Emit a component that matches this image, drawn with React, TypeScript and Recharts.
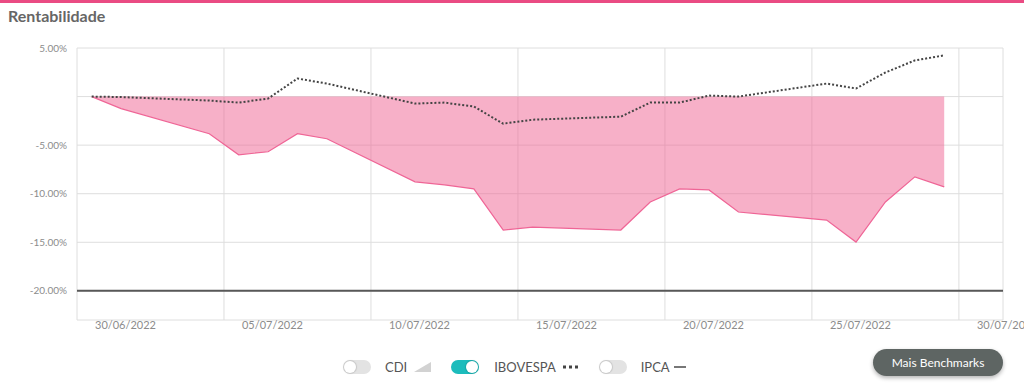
import React from "react";
import {
  ComposedChart, Area, Line, XAxis, YAxis, CartesianGrid, ReferenceLine,
} from "recharts";

// pregões do período
const dates = [
  "30/06/2022", "01/07/2022", "04/07/2022", "05/07/2022", "06/07/2022", "07/07/2022", "08/07/2022",
  "11/07/2022", "12/07/2022", "13/07/2022", "14/07/2022", "15/07/2022",
  "18/07/2022", "19/07/2022", "20/07/2022", "21/07/2022", "22/07/2022",
  "25/07/2022", "26/07/2022", "27/07/2022", "28/07/2022", "29/07/2022",
];

// rentabilidade acumulada da carteira (%)
const carteira = [
  0, -1.24, -3.82, -5.99, -5.68, -3.82, -4.34,
  -8.78, -9.09, -9.5, -13.74, -13.43,
  -13.74, -10.85, -9.5, -9.61, -11.88,
  -12.71, -14.98, -10.85, -8.26, -9.3,
];

// benchmark IBOVESPA (%)
const ibovespa = [
  0, -0.05, -0.41, -0.62, -0.21, 1.86, 1.34,
  -0.72, -0.62, -1.03, -2.79, -2.38,
  -2.07, -0.62, -0.62, 0.1, 0,
  1.34, 0.83, 2.48, 3.72, 4.24,
];

const tickDates = ["30/06/2022", "05/07/2022", "10/07/2022", "15/07/2022", "20/07/2022", "25/07/2022", "30/07/2022"];
const yTicks = [5, 0, -5, -10, -15, -20];

const DAY = 86400000;
const toDay = (s: string) => {
  const [d, m, y] = s.split("/").map(Number);
  return Date.UTC(y, m - 1, d);
};
const start = toDay(tickDates[0]);
const dayIndex = (s: string) => (toDay(s) - start) / DAY;

// each close is plotted in the middle of its day
const data = dates.map((d, i) => ({
  t: dayIndex(d) + 0.5,
  carteira: carteira[i],
  ibovespa: ibovespa[i],
}));
const xTicks = tickDates.map(dayIndex);
const labelFor = (v: number) => tickDates[xTicks.indexOf(v)] ?? "";

const fmtPct = (v: number) => (v === 0 ? "" : `${v.toFixed(2)}%`);

function XTick({ x, y, payload }: { x?: number; y?: number; payload?: { value: number } }) {
  return (
    <text x={(x ?? 0) + 18} y={(y ?? 0) + 1} fontSize={11} fill="#8c8c8c" textAnchor="start" fontFamily="Lato">
      {labelFor(payload?.value ?? 0)}
    </text>
  );
}

function Toggle({ on }: { on?: boolean }) {
  return (
    <span
      style={{
        position: "relative", display: "inline-block", width: 28, height: 14, borderRadius: 7,
        background: on ? "#1cbcbc" : "#e3e3e3",
      }}
    >
      <span
        style={{
          position: "absolute", top: 1, left: on ? 15 : 1, width: 12, height: 12, borderRadius: 6,
          background: "#fff", boxShadow: "0 0 1px 1px rgba(0,0,0,0.12)",
        }}
      />
    </span>
  );
}

const legendText: React.CSSProperties = { fontSize: 13, color: "#555" };

export default function App() {
  return (
    <div
      style={{
        position: "absolute", left: 0, top: 0, width: 1024, height: 384, background: "#fff",
        fontFamily: "Lato, 'Noto Sans', sans-serif", overflow: "hidden",
      }}
    >
      <div style={{ position: "absolute", left: 0, top: 0, width: 1024, height: 3, background: "#ea4b83" }} />
      <div style={{ position: "absolute", left: 8, top: 6, fontSize: 16, fontWeight: 700, color: "#666" }}>
        Rentabilidade
      </div>

      <div style={{ position: "absolute", left: 0, top: 0 }}>
        <ComposedChart width={1024} height={340} data={data} margin={{ top: 48, right: 21, bottom: 0, left: 8 }}>
          <CartesianGrid stroke="#dedede" />
          <XAxis
            dataKey="t"
            type="number"
            domain={[0, 31.5]}
            ticks={xTicks}
            tick={<XTick />}
            axisLine={false}
            tickLine={false}
            height={20}
            allowDataOverflow
          />
          <YAxis
            type="number"
            domain={[-23, 5]}
            ticks={yTicks}
            tickFormatter={fmtPct}
            tick={{ fontSize: 10, fill: "#8c8c8c", fontFamily: "Lato" }}
            tickMargin={4}
            axisLine={false}
            tickLine={false}
            width={69}
          />
          <Area
            type="linear"
            dataKey="carteira"
            baseValue={0}
            stroke="#ef6596"
            strokeWidth={1.2}
            fill="#f06292"
            fillOpacity={0.5}
            isAnimationActive={false}
            dot={false}
            activeDot={false}
          />
          <ReferenceLine y={-20} stroke="#585858" strokeWidth={2} />
          <Line
            type="linear"
            dataKey="ibovespa"
            stroke="#444"
            strokeWidth={2}
            strokeDasharray="2 2"
            dot={false}
            activeDot={false}
            isAnimationActive={false}
          />
        </ComposedChart>
      </div>

      <div style={{ position: "absolute", left: 343, top: 360, height: 14, display: "flex", alignItems: "center" }}>
        <Toggle />
        <span style={{ ...legendText, marginLeft: 14 }}>CDI</span>
        <svg width={17} height={10} style={{ marginLeft: 7 }}>
          <polygon points="0,10 17,0 17,10" fill="#d2d2d2" />
        </svg>
        <span style={{ marginLeft: 20, display: "inline-flex" }}><Toggle on /></span>
        <span style={{ ...legendText, marginLeft: 15 }}>IBOVESPA</span>
        <svg width={15} height={4} style={{ marginLeft: 7 }}>
          <line x1={0} y1={2} x2={15} y2={2} stroke="#444" strokeWidth={3} strokeDasharray="3 3" />
        </svg>
        <span style={{ marginLeft: 21, display: "inline-flex" }}><Toggle /></span>
        <span style={{ ...legendText, marginLeft: 14 }}>IPCA</span>
        <svg width={12} height={4} style={{ marginLeft: 4 }}>
          <line x1={0} y1={2} x2={12} y2={2} stroke="#777" strokeWidth={2} />
        </svg>
      </div>

      <div
        style={{
          position: "absolute", left: 873, top: 349, width: 130, height: 27, borderRadius: 14,
          background: "#5e6563", color: "#fff", fontSize: 12, lineHeight: "27px", textAlign: "center",
          boxShadow: "0 2px 4px rgba(0,0,0,0.3)",
        }}
      >
        Mais Benchmarks
      </div>
    </div>
  );
}
